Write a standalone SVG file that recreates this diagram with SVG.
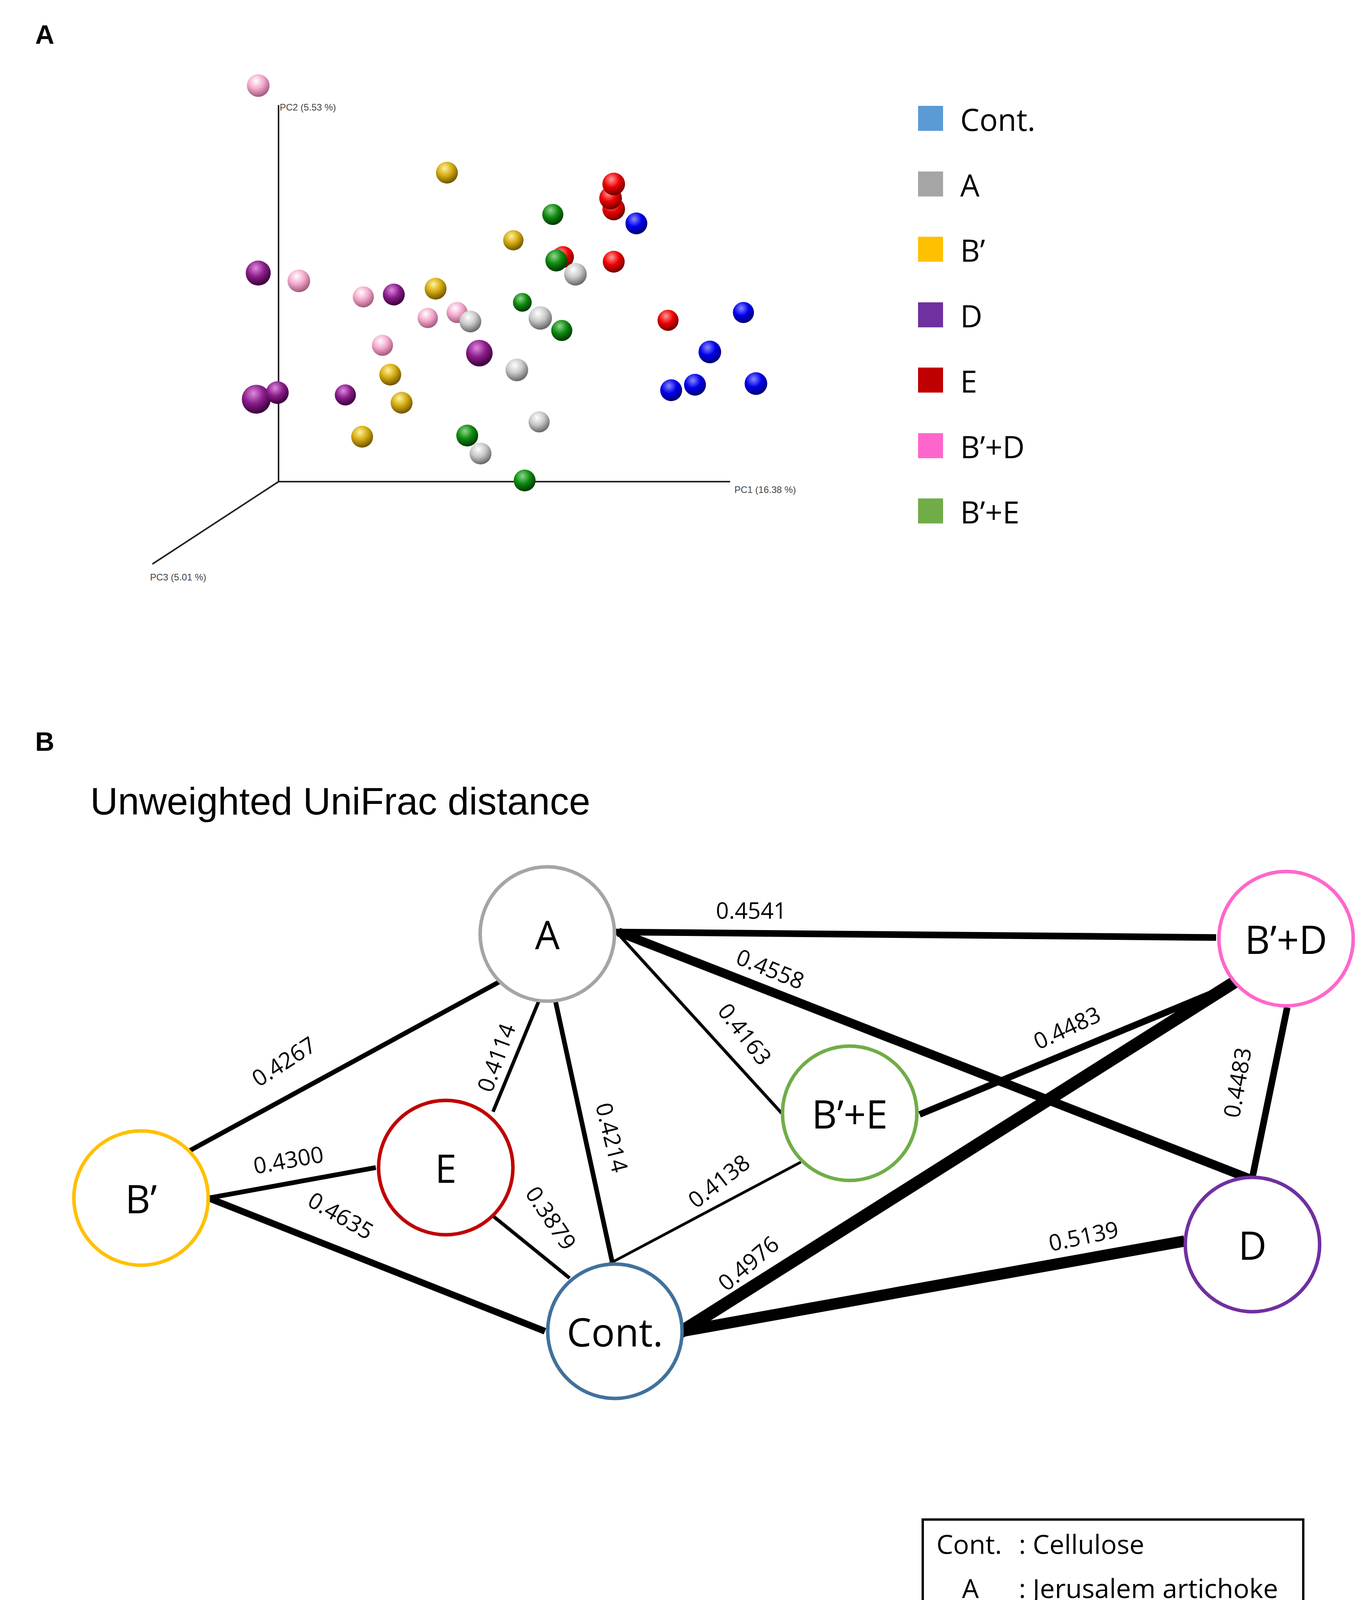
<svg xmlns="http://www.w3.org/2000/svg" width="3512" height="4544" viewBox="0 0 3512 4544">
<style>
text{font-family:"Liberation Sans",Arial,sans-serif;fill:#000}
.node{fill:#fff;stroke-width:9}
.nl{font-family:"Open Sans","Liberation Sans",sans-serif;font-size:100px;text-anchor:middle;dominant-baseline:central}
.el{font-family:"Open Sans","Liberation Sans",sans-serif;font-size:58px;text-anchor:middle}
.lg{font-family:"Open Sans","Liberation Sans",sans-serif;font-size:78px;dominant-baseline:central}
.lt{font-family:"Open Sans","Liberation Sans",sans-serif;font-size:68px;dominant-baseline:central}
.ax{stroke:#222;stroke-width:4;fill:none}
.axl{font-size:24px;fill:#444}
.e{stroke:#000;stroke-linecap:butt}
</style>
<defs>
<radialGradient id="gPink" cx="40%" cy="30%" r="70%"><stop offset="0" stop-color="#fff"/><stop offset="0.5" stop-color="#f4a8cc"/><stop offset="1" stop-color="#a05a7c"/></radialGradient>
<radialGradient id="gGold" cx="40%" cy="30%" r="70%"><stop offset="0" stop-color="#fff3a0"/><stop offset="0.5" stop-color="#d4aa10"/><stop offset="1" stop-color="#6e5500"/></radialGradient>
<radialGradient id="gRed" cx="40%" cy="30%" r="70%"><stop offset="0" stop-color="#ff9a9a"/><stop offset="0.5" stop-color="#ee0000"/><stop offset="1" stop-color="#700000"/></radialGradient>
<radialGradient id="gGreen" cx="40%" cy="30%" r="70%"><stop offset="0" stop-color="#8fd88f"/><stop offset="0.5" stop-color="#108a10"/><stop offset="1" stop-color="#003800"/></radialGradient>
<radialGradient id="gBlue" cx="40%" cy="30%" r="70%"><stop offset="0" stop-color="#8a8aff"/><stop offset="0.5" stop-color="#0000ee"/><stop offset="1" stop-color="#000070"/></radialGradient>
<radialGradient id="gGray" cx="40%" cy="30%" r="70%"><stop offset="0" stop-color="#fff"/><stop offset="0.5" stop-color="#c8c8c8"/><stop offset="1" stop-color="#666"/></radialGradient>
<radialGradient id="gPurple" cx="40%" cy="30%" r="70%"><stop offset="0" stop-color="#e08ae0"/><stop offset="0.5" stop-color="#8a1e8a"/><stop offset="1" stop-color="#3a003a"/></radialGradient>
</defs>
<rect width="3512" height="4544" fill="#fff"/>
<text x="90" y="112" font-size="68" font-weight="bold">A</text>
<text x="90" y="1922" font-size="68" font-weight="bold">B</text>
<g id="axes">
<line class="ax" x1="713" y1="269" x2="713" y2="1233"/>
<line class="ax" x1="713" y1="1233" x2="1869" y2="1233"/>
<line class="ax" x1="713" y1="1233" x2="390" y2="1444"/>
<text class="axl" x="716" y="283">PC2 (5.53 %)</text>
<text class="axl" x="1880" y="1262">PC1 (16.38 %)</text>
<text class="axl" x="384" y="1486">PC3 (5.01 %)</text>
</g>
<g id="points">
<circle cx="661" cy="219" r="29" fill="url(#gPink)"/>
<circle cx="1144" cy="442" r="28" fill="url(#gGold)"/>
<circle cx="1571" cy="535" r="29" fill="url(#gRed)"/>
<circle cx="1563" cy="507" r="29" fill="url(#gRed)"/>
<circle cx="1571" cy="471" r="29" fill="url(#gRed)"/>
<circle cx="1415" cy="549" r="27" fill="url(#gGreen)"/>
<circle cx="1629" cy="572" r="28" fill="url(#gBlue)"/>
<circle cx="1314" cy="615" r="26" fill="url(#gGold)"/>
<circle cx="1441" cy="658" r="28" fill="url(#gRed)"/>
<circle cx="1424" cy="667" r="28" fill="url(#gGreen)"/>
<circle cx="1473" cy="702" r="29" fill="url(#gGray)"/>
<circle cx="1571" cy="670" r="28" fill="url(#gRed)"/>
<circle cx="661" cy="699" r="32" fill="url(#gPurple)"/>
<circle cx="765" cy="719" r="29" fill="url(#gPink)"/>
<circle cx="1115" cy="739" r="28" fill="url(#gGold)"/>
<circle cx="930" cy="760" r="27" fill="url(#gPink)"/>
<circle cx="1008" cy="754" r="28" fill="url(#gPurple)"/>
<circle cx="1337" cy="774" r="24" fill="url(#gGreen)"/>
<circle cx="1095" cy="814" r="26" fill="url(#gPink)"/>
<circle cx="1170" cy="800" r="27" fill="url(#gPink)"/>
<circle cx="1204" cy="823" r="28" fill="url(#gGray)"/>
<circle cx="1383" cy="814" r="30" fill="url(#gGray)"/>
<circle cx="1438" cy="846" r="27" fill="url(#gGreen)"/>
<circle cx="1710" cy="820" r="27" fill="url(#gRed)"/>
<circle cx="1903" cy="800" r="27" fill="url(#gBlue)"/>
<circle cx="979" cy="884" r="27" fill="url(#gPink)"/>
<circle cx="1227" cy="904" r="34" fill="url(#gPurple)"/>
<circle cx="1323" cy="947" r="29" fill="url(#gGray)"/>
<circle cx="1817" cy="901" r="29" fill="url(#gBlue)"/>
<circle cx="999" cy="959" r="28" fill="url(#gGold)"/>
<circle cx="1935" cy="982" r="29" fill="url(#gBlue)"/>
<circle cx="1779" cy="985" r="28" fill="url(#gBlue)"/>
<circle cx="1718" cy="999" r="28" fill="url(#gBlue)"/>
<circle cx="656" cy="1022" r="37" fill="url(#gPurple)"/>
<circle cx="710" cy="1005" r="29" fill="url(#gPurple)"/>
<circle cx="884" cy="1011" r="27" fill="url(#gPurple)"/>
<circle cx="1028" cy="1031" r="28" fill="url(#gGold)"/>
<circle cx="1380" cy="1080" r="27" fill="url(#gGray)"/>
<circle cx="927" cy="1118" r="28" fill="url(#gGold)"/>
<circle cx="1196" cy="1115" r="28" fill="url(#gGreen)"/>
<circle cx="1230" cy="1161" r="28" fill="url(#gGray)"/>
<circle cx="1343" cy="1230" r="28" fill="url(#gGreen)"/>
</g>
<g id="legendA">
<rect x="2350" y="271" width="64" height="64" fill="#5b9bd5"/><text class="lg" x="2458" y="305">Cont.</text>
<rect x="2350" y="439" width="64" height="64" fill="#a5a5a5"/><text class="lg" x="2458" y="473">A</text>
<rect x="2350" y="606" width="64" height="64" fill="#ffc000"/><text class="lg" x="2458" y="640">B’</text>
<rect x="2350" y="774" width="64" height="64" fill="#7030a0"/><text class="lg" x="2458" y="808">D</text>
<rect x="2350" y="941" width="64" height="64" fill="#c00000"/><text class="lg" x="2458" y="975">E</text>
<rect x="2350" y="1109" width="64" height="64" fill="#ff66cc"/><text class="lg" x="2458" y="1143">B’+D</text>
<rect x="2350" y="1276" width="64" height="64" fill="#70ad47"/><text class="lg" x="2458" y="1310">B’+E</text>
</g>
<text x="231" y="2085" font-family="Open Sans, Liberation Sans, sans-serif" font-size="98">Unweighted UniFrac distance</text>
<g id="connectors">
<line class="e" x1="1574" y1="2386" x2="3113" y2="2400" stroke-width="17"/>
<line class="e" x1="1583" y1="2386" x2="3200" y2="3018" stroke-width="23"/>
<line class="e" x1="1279" y1="2513" x2="485" y2="2946" stroke-width="12"/>
<line class="e" x1="1406" y1="2498" x2="1262" y2="2846" stroke-width="9"/>
<line class="e" x1="1406" y1="2490" x2="1568" y2="3235" stroke-width="12"/>
<line class="e" x1="1588" y1="2397" x2="2001" y2="2850" stroke-width="8"/>
<line class="e" x1="2354" y1="2853" x2="3162" y2="2518" stroke-width="17"/>
<line class="e" x1="1733" y1="3416" x2="3162" y2="2513" stroke-width="32"/>
<line class="e" x1="3295" y1="2579" x2="3205" y2="3018" stroke-width="17"/>
<line class="e" x1="1747" y1="3408" x2="3032" y2="3177" stroke-width="29"/>
<line class="e" x1="1560" y1="3235" x2="2050" y2="2975" stroke-width="7"/>
<line class="e" x1="1262" y1="3113" x2="1458" y2="3272" stroke-width="9"/>
<line class="e" x1="534" y1="3067" x2="962" y2="2989" stroke-width="12"/>
<line class="e" x1="534" y1="3067" x2="1395" y2="3408" stroke-width="17"/>
</g>
<g id="edge-labels">
<text class="el" x="1923" y="2352">0.4541</text>
<text class="el" transform="translate(1964,2500) rotate(22)">0.4558</text>
<text class="el" transform="translate(1890,2660) rotate(52)">0.4163</text>
<text class="el" transform="translate(1290,2715) rotate(-70)">0.4114</text>
<text class="el" transform="translate(1546,2917) rotate(76)">0.4214</text>
<text class="el" transform="translate(738,2735) rotate(-33)">0.4267</text>
<text class="el" transform="translate(742,2990) rotate(-10)">0.4300</text>
<text class="el" transform="translate(862,3130) rotate(30)">0.4635</text>
<text class="el" transform="translate(1393,3130) rotate(56)">0.3879</text>
<text class="el" transform="translate(1853,3040) rotate(-38)">0.4138</text>
<text class="el" transform="translate(1929,3250) rotate(-40)">0.4976</text>
<text class="el" transform="translate(2778,3185) rotate(-12)">0.5139</text>
<text class="el" transform="translate(2740,2650) rotate(-25)">0.4483</text>
<text class="el" transform="translate(3188,2775) rotate(-80)">0.4483</text>
</g>
<g id="node-A"><circle class="node" cx="1401" cy="2391" r="172" stroke="#a5a5a5"/><text class="nl" x="1401" y="2391">A</text></g>
<g id="node-Bp"><circle class="node" cx="361" cy="3067" r="172" stroke="#ffc000"/><text class="nl" x="361" y="3067">B’</text></g>
<g id="node-E"><circle class="node" cx="1141" cy="2989" r="172" stroke="#c00000"/><text class="nl" x="1141" y="2989">E</text></g>
<g id="node-Cont"><circle class="node" cx="1574" cy="3408" r="172" stroke="#41719c"/><text class="nl" x="1574" y="3408">Cont.</text></g>
<g id="node-BpE"><circle class="node" cx="2175" cy="2850" r="172" stroke="#70ad47"/><text class="nl" x="2175" y="2850">B’+E</text></g>
<g id="node-BpD"><circle class="node" cx="3292" cy="2403" r="172" stroke="#ff66cc"/><text class="nl" x="3292" y="2403">B’+D</text></g>
<g id="node-D"><circle class="node" cx="3206" cy="3186" r="172" stroke="#7030a0"/><text class="nl" x="3206" y="3186">D</text></g>
<g id="legendB">
<rect x="2362" y="3890" width="974" height="581" fill="none" stroke="#000" stroke-width="6"/>
<text class="lt" x="2397" y="3951">Cont.</text><text class="lt" x="2608" y="3951">: Cellulose</text>
<text class="lt" x="2484" y="4064" text-anchor="middle">A</text><text class="lt" x="2608" y="4064">: Jerusalem artichoke</text>
<text class="lt" x="2484" y="4176" text-anchor="middle">B’</text><text class="lt" x="2608" y="4176">: Water-extract</text>
<text class="lt" x="2484" y="4291" text-anchor="middle">D</text><text class="lt" x="2608" y="4291">: Organic-extract</text>
<text class="lt" x="2484" y="4404" text-anchor="middle">E</text><text class="lt" x="2608" y="4404">: Insoluble-extract</text>
</g>
</svg>
